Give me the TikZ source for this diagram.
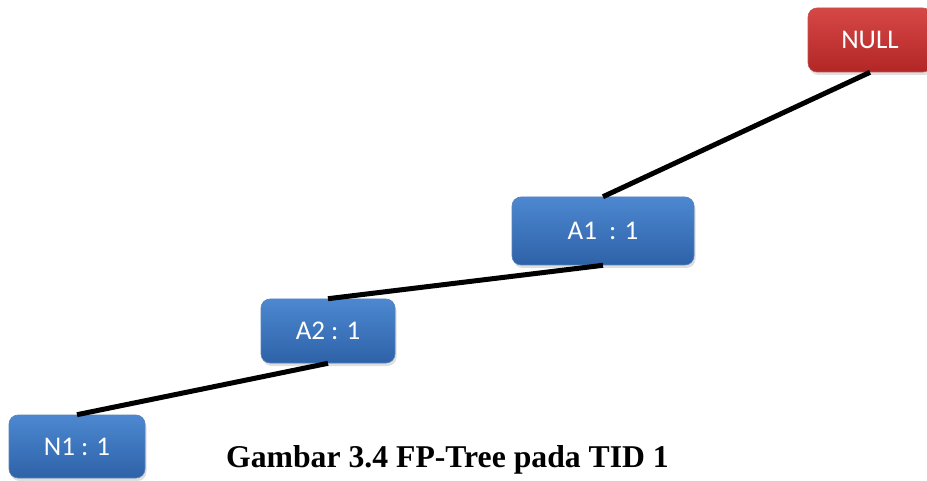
\documentclass[tikz,border=0pt]{standalone}
\usepackage{fontspec}
\setmainfont{Liberation Serif}
\newfontfamily\boxfont{Carlito}
\usetikzlibrary{shadows}
\definecolor{bluetop}{RGB}{76,136,208}
\definecolor{bluebot}{RGB}{46,98,168}
\definecolor{redtop}{RGB}{214,72,70}
\definecolor{redbot}{RGB}{178,38,38}
\tikzset{
  itembox/.style={rounded corners=9pt, inner sep=0pt, text=white,
    font=\boxfont\fontsize{27}{30}\selectfont,
    top color=bluetop, bottom color=bluebot, draw=bluebot!80!white, line width=0.6pt,
    drop shadow={opacity=0.25, shadow xshift=1.5pt, shadow yshift=-3pt}},
  rootbox/.style={itembox, top color=redtop, bottom color=redbot, draw=redbot!80!white},
  treeline/.style={line width=5pt, black}
}
\begin{document}
\begin{tikzpicture}[x=1pt,y=-1pt]
\path[use as bounding box] (0,0) rectangle (927,481);
\begin{scope}
\clip (0,0) rectangle (927,481);
\node[rootbox, minimum width=124pt, minimum height=64pt] (null) at (870,40) {NULL};
\end{scope}
\node[itembox, minimum width=182pt, minimum height=68pt] (a1) at (603,231) {A1\ \ : 1};
\node[itembox, minimum width=134pt, minimum height=64pt] (a2) at (328,331) {A2 : 1};
\node[itembox, minimum width=136pt, minimum height=63pt] (n1) at (77,446.5) {N1 : 1};
\draw[treeline] (null.south) -- (a1.north);
\draw[treeline] (a1.south) -- (a2.north);
\draw[treeline] (a2.south) -- (n1.north);
\node[font=\bfseries\fontsize{31.7}{34}\selectfont, anchor=base, inner sep=0pt] (cap) at (447.5,467) {Gambar 3.4 FP-Tree pada TID 1};
\end{tikzpicture}
\end{document}
